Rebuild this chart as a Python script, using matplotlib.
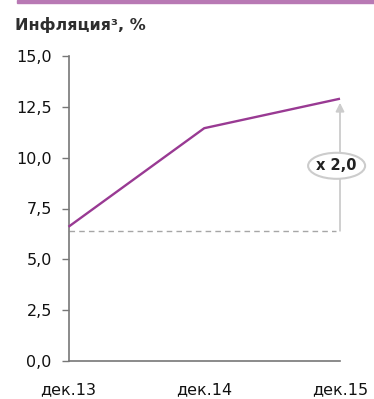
import matplotlib
matplotlib.use("Agg")
import matplotlib.pyplot as plt
from matplotlib.patches import Ellipse

plt.rcParams['font.family'] = ['DejaVu Sans']

categories = ["дек.13", "дек.14", "дек.15"]
inflation = [6.6, 11.45, 12.9]
baseline = 6.4
ratio_label = "x 2,0"
yticks = [0.0, 2.5, 5.0, 7.5, 10.0, 12.5, 15.0]

W, H = 374, 399
fig = plt.figure(figsize=(W/100, H/100), dpi=100)
ax = fig.add_axes([68.5/W, 1-361/H, (340-68.5)/W, (361-56)/H])

x = list(range(len(categories)))
ax.plot(x, inflation, color="#993a93", lw=1.7, solid_capstyle="butt", zorder=3, clip_on=False)
ax.plot([x[0], x[-1] - 0.03], [baseline, baseline], color="#a6a6a6", lw=1.0,
        dashes=(4, 3), zorder=2, clip_on=False)

ax.annotate("", xy=(x[-1], inflation[-1] - 0.2), xytext=(x[-1], baseline),
            arrowprops=dict(arrowstyle="-|>,head_length=0.5,head_width=0.25",
                            color="#cccccc", lw=1.3, shrinkA=0, shrinkB=0), zorder=2)
ymid = 9.6
ax.add_patch(Ellipse((x[-1] - 0.025, ymid), 0.42, 1.28, fc="white", ec="#cccccc",
                     lw=1.5, zorder=4, clip_on=False))
ax.text(x[-1] - 0.025, ymid, ratio_label, ha="center", va="center", fontsize=10.5,
        fontweight="bold", color="#222222", zorder=5)

ax.set_xlim(0, 2)
ax.set_ylim(0, 15)
ax.set_yticks(yticks)
ax.set_yticklabels([f"{v:.1f}".replace(".", ",") for v in yticks], fontsize=11.5, color="#111111")
ax.set_xticks(x)
ax.set_xticklabels(categories, fontsize=11.5, color="#111111")
ax.tick_params(axis="x", length=0, pad=15)
ax.tick_params(axis="y", length=5, width=1, color="#777777", pad=7)
for s in ["top", "right"]:
    ax.spines[s].set_visible(False)
for s in ["left", "bottom"]:
    ax.spines[s].set_color("#777777")
    ax.spines[s].set_linewidth(1.2)

fig.text(15/W, 1-25/H, "Инфляция³, %", fontsize=11.5, fontweight="bold", va="center",
         ha="left", color="#2e2e2e")
fig.patches.append(plt.Rectangle((17/W, 1-3/H), 1, 3/H, transform=fig.transFigure,
                                 color="#b879b4", clip_on=False))

fig.savefig("out.png", dpi=100)
